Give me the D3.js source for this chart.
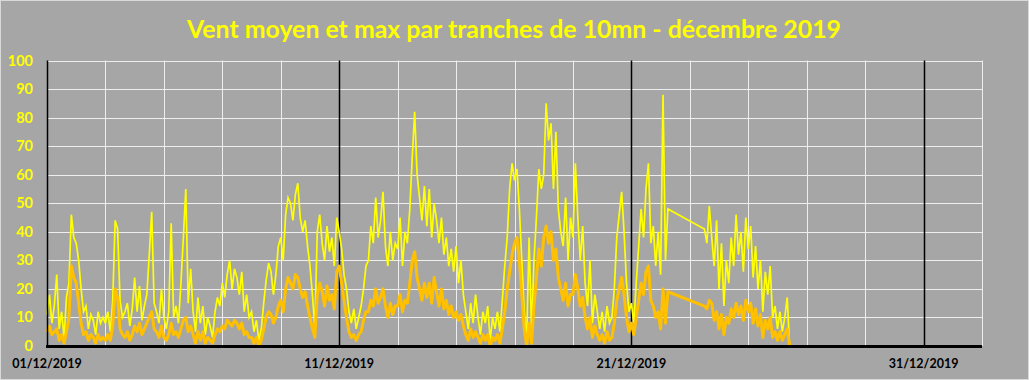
<!DOCTYPE html>
<html lang="fr">
<head>
    <meta charset="UTF-8">
    <title>Vent moyen et max</title>
    <script src="https://cdn.jsdelivr.net/npm/d3@7/dist/d3.min.js"></script>
    <style>
        body { margin: 0; background: #ffffff; }
    </style>
</head>
<body>
<script>

    var width = 1029;
    var height = 380;

    var title = 'Vent moyen et max par tranches de 10mn - décembre 2019';

    // relevés toutes les 2 h, du 01/12 00h au 22/12 06h
    var startA = new Date(2019, 11, 1, 0);
    var maxA = [
        11, 18, 8, 14, 25, 6, 12, 3, 17, 22, 46, 38,
        36, 30, 20, 12, 14, 6, 11, 9, 4, 12, 8, 10,
        8, 12, 5, 16, 44, 41, 16, 10, 12, 15, 7, 13,
        24, 12, 21, 9, 14, 18, 32, 47, 15, 12, 8, 20,
        10, 6, 12, 43, 10, 14, 8, 22, 38, 55, 15, 27,
        12, 5, 17, 8, 14, 4, 10, 7, 3, 12, 17, 14,
        22, 17, 25, 30, 20, 27, 24, 18, 26, 12, 18, 10,
        12, 5, 9, 2, 6, 15, 23, 29, 26, 18, 25, 35,
        38, 30, 46, 52, 50, 44, 53, 57, 45, 40, 44, 35,
        28, 18, 6, 40, 46, 36, 30, 42, 33, 38, 28, 45,
        40, 34, 25, 20, 12, 8, 13, 6, 10, 14, 20, 28,
        30, 42, 36, 52, 38, 44, 54, 35, 28, 40, 30, 36,
        34, 45, 28, 40, 36, 48, 66, 82, 60, 52, 44, 56,
        42, 55, 38, 50, 44, 36, 45, 32, 38, 28, 34, 26,
        35, 22, 30, 18, 12, 6, 15, 8, 18, 10, 4, 12,
        8, 14, 2, 10, 6, 12, 5, 16, 28, 38, 55, 64,
        58, 62, 48, 30, 12, 2, 38, 5, 30, 45, 62, 55,
        60, 85, 72, 78, 55, 75, 48, 40, 35, 52, 30, 45,
        38, 64, 45, 30, 42, 22, 14, 30, 8, 18, 12, 6,
        12, 5, 14, 8, 10, 20, 38, 46, 54, 40, 22, 12,
        15, 8, 22, 35, 48, 38, 55, 64, 36, 42, 28, 40,
        25, 88, 30, 48
    ];
    var meanA = [
        5, 7, 4, 5, 6, 2, 4, 1, 5, 10, 28, 24,
        22, 15, 8, 4, 5, 2, 4, 3, 1, 4, 2, 3,
        2, 4, 2, 7, 20, 17, 6, 4, 3, 5, 2, 4,
        7, 5, 8, 4, 6, 8, 10, 12, 6, 5, 3, 7,
        3, 2, 4, 8, 4, 5, 3, 6, 9, 10, 5, 7,
        4, 1, 5, 2, 5, 1, 3, 2, 1, 4, 6, 5,
        7, 6, 9, 8, 7, 9, 8, 6, 8, 4, 5, 3,
        3, 1, 3, 0, 2, 6, 10, 12, 11, 8, 10, 14,
        16, 12, 20, 24, 22, 20, 25, 24, 20, 17, 19, 14,
        10, 6, 3, 18, 22, 19, 14, 21, 16, 18, 13, 26,
        28, 22, 16, 10, 5, 3, 4, 2, 4, 5, 9, 12,
        12, 16, 14, 20, 15, 17, 20, 14, 10, 15, 11, 14,
        14, 18, 12, 16, 15, 22, 30, 33, 24, 20, 16, 22,
        17, 22, 15, 24, 19, 14, 20, 13, 16, 11, 14, 10,
        12, 9, 11, 7, 4, 2, 6, 3, 5, 3, 1, 4,
        2, 4, 0, 3, 2, 4, 1, 6, 12, 20, 26, 32,
        36, 38, 30, 18, 6, 0, 8, 1, 14, 24, 34, 28,
        38, 42, 36, 40, 30, 34, 24, 20, 16, 22, 14, 18,
        18, 25, 20, 14, 17, 10, 6, 10, 3, 7, 4, 2,
        4, 1, 5, 2, 3, 8, 16, 20, 24, 18, 10, 5,
        8, 4, 10, 16, 22, 18, 26, 28, 16, 14, 10, 12,
        6, 20, 8, 19
    ];

    // reprise après la coupure, du 23/12 12h au 26/12 10h
    var startB = new Date(2019, 11, 23, 12);
    var maxB = [
        41, 36, 49, 38, 28, 44, 20, 36, 14, 30, 22, 38,
        28, 46, 32, 40, 26, 45, 34, 42, 24, 35, 20, 30,
        12, 26, 18, 28, 10, 14, 6, 12, 5, 10, 17, 0
    ];
    var meanB = [
        14, 13, 16, 15, 9, 12, 6, 11, 4, 10, 8, 13,
        10, 15, 11, 14, 9, 16, 12, 15, 8, 13, 7, 11,
        3, 9, 6, 10, 3, 5, 2, 5, 2, 4, 6, 0
    ];

    var yTicks = [0, 10, 20, 30, 40, 50, 60, 70, 80, 90, 100];
    var xLabels = [new Date(2019, 11, 1), new Date(2019, 11, 11), new Date(2019, 11, 21), new Date(2019, 11, 31)];

    var svg = d3.select('body')
        .append('svg')
        .attr('width', width)
        .attr('height', height)
        .style('display', 'block');

    svg.append('rect')
        .attr('x', 0.5)
        .attr('y', 0.5)
        .attr('width', width - 1)
        .attr('height', height - 1)
        .attr('fill', '#a6a6a6')
        .attr('stroke', '#d9d9d9');

    var x = d3.scaleTime()
        .domain([new Date(2019, 11, 1), new Date(2020, 0, 2)])
        .range([47, 982]);

    var y = d3.scaleLinear()
        .domain([0, 100])
        .range([346, 60.5]);

    function series(start, values) {
        return values.map(function (v, i) {
            return {t: d3.timeHour.offset(start, 2 * i), v: v};
        });
    }

    var maxData = series(startA, maxA).concat(series(startB, maxB));
    var meanData = series(startA, meanA).concat(series(startB, meanB));

    // grille : une ligne tous les 2 jours, noire tous les 10 jours
    var gridDays = d3.timeDay.range(new Date(2019, 11, 1), new Date(2020, 0, 3), 1)
        .filter(function (d, i) { return i % 2 === 0 && i > 0; });

    function isLabel(d) {
        return xLabels.some(function (l) { return +l === +d; });
    }

    svg.append('g')
        .selectAll('line')
        .data(yTicks.filter(function (d) { return d > 0; }))
        .enter()
        .append('line')
        .attr('x1', x.range()[0])
        .attr('x2', x.range()[1])
        .attr('y1', function (d) { return Math.round(y(d)) + 0.5; })
        .attr('y2', function (d) { return Math.round(y(d)) + 0.5; })
        .attr('stroke', '#eeeeee')
        .attr('stroke-width', 1);

    svg.append('g')
        .selectAll('line')
        .data(gridDays)
        .enter()
        .append('line')
        .attr('x1', function (d) { return Math.round(x(d)) + 0.5; })
        .attr('x2', function (d) { return Math.round(x(d)) + 0.5; })
        .attr('y1', y(100))
        .attr('y2', y(0))
        .attr('stroke', function (d) { return isLabel(d) ? '#000000' : '#eeeeee'; })
        .attr('stroke-width', function (d) { return isLabel(d) ? 1.5 : 1; });

    var line = d3.line()
        .x(function (d) { return x(d.t); })
        .y(function (d) { return y(d.v); });

    svg.append('path')
        .datum(maxData)
        .attr('fill', 'none')
        .attr('stroke', '#ffff00')
        .attr('stroke-width', 1.7)
        .attr('stroke-linejoin', 'miter')
        .attr('d', line);

    svg.append('path')
        .datum(meanData)
        .attr('fill', 'none')
        .attr('stroke', '#ffc000')
        .attr('stroke-width', 3)
        .attr('stroke-linejoin', 'round')
        .attr('d', line);

    // axes
    svg.append('line')
        .attr('x1', 47.5).attr('x2', 47.5)
        .attr('y1', y(100)).attr('y2', y(0))
        .attr('stroke', '#000').attr('stroke-width', 1.5);

    svg.append('line')
        .attr('x1', 46).attr('x2', x.range()[1])
        .attr('y1', 346.5).attr('y2', 346.5)
        .attr('stroke', '#000').attr('stroke-width', 3);

    svg.append('g')
        .selectAll('text')
        .data(yTicks)
        .enter()
        .append('text')
        .attr('x', 33)
        .attr('y', function (d) { return y(d) + 5; })
        .attr('text-anchor', 'end')
        .attr('font-family', 'Lato, sans-serif')
        .attr('font-weight', 'bold')
        .attr('font-size', 14.5)
        .attr('fill', '#ffff00')
        .text(function (d) { return d; });

    var fmt = d3.timeFormat('%d/%m/%Y');

    svg.append('g')
        .selectAll('text')
        .data(xLabels)
        .enter()
        .append('text')
        .attr('x', function (d) { return x(d); })
        .attr('y', 368)
        .attr('text-anchor', 'middle')
        .attr('font-family', 'Lato, sans-serif')
        .attr('font-weight', 'bold')
        .attr('font-size', 12.5)
        .attr('fill', '#000')
        .text(fmt);

    svg.append('text')
        .attr('x', 514)
        .attr('y', 38)
        .attr('text-anchor', 'middle')
        .attr('font-family', 'Lato, sans-serif')
        .attr('font-weight', 'bold')
        .attr('font-size', 25)
        .attr('textLength', 654)
        .attr('lengthAdjust', 'spacingAndGlyphs')
        .attr('fill', '#ffff00')
        .text(title);

</script>
</body>
</html>
